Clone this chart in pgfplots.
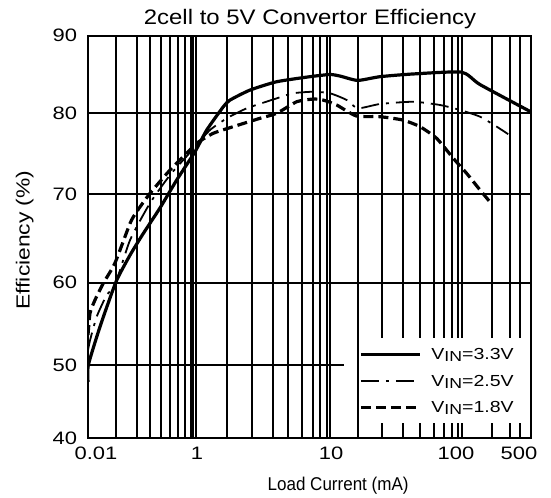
\documentclass[border=0pt]{standalone}
\usepackage{fontspec}
\setmainfont{Liberation Sans}
\newfontfamily\widefont{Liberation Sans}[FakeStretch=1.22]
\usepackage{graphicx}
\usepackage{pgfplots}
\pgfplotsset{compat=1.18}

% positions (bp from left spine) of the printed grid lines, per decade, for mantissa 1..10
\def\XA{{0,8.43,13.36,16.86,19.57,21.79,23.66,25.29,26.72,28}}
\def\XB{{28,48.7,62,72.7,82,90.3,97,102.5,105.3,108}}
\def\XC{{108,138.7,163.7,185.3,200.3,214,224.7,232,238.7,242}}
\def\XD{{242,269.7,293.7,314.7,332,346,356,363.7,370.3,373.7}}
\def\XE{{373.7,404.3,422,432,442.7,450,456,461,465,469}}
% positions (bp from bottom spine) of the printed lines 40,50,...,90
\def\YV{{0,73.3,155.6,244,325,402.6}}

\newcommand\tofixed[1]{%
  \pgfkeys{/pgf/fpu=true}\pgfmathparse{#1}\pgfmathfloattofixed{\pgfmathresult}%
  \let\fixin\pgfmathresult\pgfkeys{/pgf/fpu=false}}

\newcommand\xtrafo[1]{%
  \begingroup
  \tofixed{#1}%
  \pgfmathparse{log10(\fixin)+0.0005}\let\lx\pgfmathresult
  \pgfmathtruncatemacro\dd{floor(\lx)}%
  \pgfmathtruncatemacro\nd{-1*(\dd)}%
  \pgfmathparse{\fixin*(10^(\nd))}\let\mm\pgfmathresult
  \pgfmathtruncatemacro\kk{max(1,min(9,floor(\mm)))}%
  \pgfmathtruncatemacro\ka{\kk-1}%
  \ifcase\numexpr\dd+2\relax\let\Arr\XA\or\let\Arr\XB\or\let\Arr\XC\or\let\Arr\XD\or\let\Arr\XE\else\let\Arr\XE\fi
  \pgfmathparse{\Arr[\ka]+(\mm-\kk)*(\Arr[\kk]-\Arr[\ka])}%
  \xdef\trafores{\pgfmathresult}%
  \endgroup
  \let\pgfmathresult\trafores}

\newcommand\ytrafo[1]{%
  \begingroup
  \tofixed{#1}%
  \pgfmathparse{(\fixin-40)/10}\let\yT\pgfmathresult
  \pgfmathtruncatemacro\kk{max(0,min(4,floor(\yT)))}%
  \pgfmathtruncatemacro\kp{\kk+1}%
  \pgfmathparse{\YV[\kk]+(\yT-\kk)*(\YV[\kp]-\YV[\kk])}%
  \xdef\trafores{\pgfmathresult}%
  \endgroup
  \let\pgfmathresult\trafores}

\newcommand\vin[1]{\makebox[92bp][l]{V\raisebox{-2bp}{\fontsize{14.5bp}{14.5bp}\selectfont IN}=#1V}}

\begin{document}
\begin{tikzpicture}
\path[use as bounding box] (0,0) rectangle (551bp,-498bp);
\begin{axis}[
  scale only axis, width=442.7bp, height=402.6bp,
  anchor=south west, at={(88bp,-438.3bp)},
  x coord trafo/.code={\xtrafo{#1}},
  y coord trafo/.code={\ytrafo{#1}},
  xmin=0.01, xmax=500, ymin=40, ymax=90,
  enlargelimits=false,
  axis line style={line width=2bp},
  major tick length=0pt,
  xtick={0.01,1,10,100,500},
  xticklabels={\makebox[0pt]{\hspace*{16bp}0.01},\makebox[0pt]{\hspace*{2bp}1},\makebox[0pt]{\hspace*{2bp}10},\makebox[0pt]{100\hspace*{11.4bp}},\makebox[0pt]{500\hspace*{23.4bp}}},
  ytick={40,50,60,70,80,90},
  yticklabels={40,50,60,70,80,90},
  extra x ticks={0.1,0.2,0.3,0.4,0.5,0.6,0.7,0.8,0.9,1,2,3,4,5,6,7,8,9,10,20,30,40,50,60,70,80,90,100,200,300,400},
  extra x tick labels={},
  extra x tick style={grid=major},
  extra y ticks={60,70,80},
  extra y tick labels={},
  extra y tick style={grid=major},
  major grid style={black, line width=2bp},
  ticklabel style={font=\widefont\fontsize{18bp}{18bp}\selectfont, inner sep=0pt},
  xticklabel style={anchor=north, yshift=-8.4bp},
  yticklabel style={anchor=east, xshift=-10.7bp},
  every axis title shift=0pt,
  title={\scalebox{1.14}[1]{2cell to 5V Convertor Efficiency}},
  title style={at={(0.5015,1.0266)}, anchor=base, inner sep=0pt, font=\fontsize{21bp}{21bp}\selectfont},
  xlabel={\scalebox{0.92}[1]{Load Current (mA)}},
  xlabel style={at={(0.565,-0.1284)}, anchor=base, inner sep=0pt, font=\fontsize{18.5bp}{18.5bp}\selectfont},
  ylabel={\scalebox{1.2}[1]{Efficiency (\%)}},
  ylabel style={at={(-0.132,0.4925)}, anchor=base, inner sep=0pt, font=\fontsize{19bp}{19bp}\selectfont},
  legend style={at={(0.6122,0.2491)}, anchor=north west, fill=white, draw=none,
    inner xsep=0pt, inner ysep=8.5bp, row sep=11.5bp,
    font=\widefont\fontsize{16bp}{16bp}\selectfont,
    nodes={inner sep=0pt, text height=13bp, text depth=2bp},
    cells={anchor=base west}},
  legend image code/.code={\draw[#1] (0bp,5.5bp) -- (59bp,5.5bp); \path (69bp,5.5bp);},
]
% partial 50 % line
\addplot[forget plot, black, line width=2bp] coordinates {(0.01,50) (15,50)};

% VIN = 3.3 V
\addplot[black, line width=3.2bp, line join=round, smooth, tension=0.35] coordinates {
(0.01,47.7) (0.0104,50.0) (0.0272,54.65) (0.1,60.1) (0.168,63.13) (0.247,65.51)
(0.393,68.45) (0.581,71.77) (0.963,75.26) (1.35,77.94) (1.89,80.85) (2.13,81.7)
(2.93,82.99) (4.23,84.07) (6.75,84.72) (10,85.0) (13.6,84.8) (20,84.24)
(29.3,84.72) (46.1,85.07) (100,85.3) (160,83.7) (500,80.2)};
\addlegendentry{\vin{3.3}}

% VIN = 2.5 V
\addplot[black, line width=1.8bp, smooth, tension=0.35, dash pattern=on 18bp off 7bp on 3bp off 7bp] coordinates {
(0.01,51.8) (0.0124,53.0) (0.0205,55.87) (0.0468,58.5) (0.092,59.72) (0.168,64.83)
(0.3,69.0) (0.5,72.38) (0.731,74.7) (1.02,76.1) (1.456,77.94) (2,79.38)
(2.8,80.64) (4.23,81.93) (5.34,82.58) (7.04,82.78) (10,82.58) (16,81.72)
(20,80.64) (29.3,81.2) (46.1,81.49) (66,81.07) (95,80.43) (160,79.58)
(225,78.35) (290,77.42)};
\addlegendentry{\vin{2.5}}

% VIN = 1.8 V
\addplot[black, line width=3.2bp, smooth, tension=0.35, dash pattern=on 10bp off 5bp] coordinates {
(0.01,53.65) (0.0124,56.3) (0.0183,57.9) (0.0355,59.93) (0.092,62.23) (0.168,66.72)
(0.2,68.04) (0.3,70.12) (0.5,73.0) (0.731,75.06) (1.02,76.3) (1.56,77.53)
(2.26,78.35) (3.38,79.38) (4.23,80.0) (5.61,81.49) (7.08,81.84) (8.49,81.7)
(12.4,81.07) (19.5,79.67) (29.3,79.58) (40,79.17) (50,78.35) (62.7,76.9)
(82.4,74.44) (116,72.59) (160,70.53) (198,68.9)};
\addlegendentry{\vin{1.8}}
\end{axis}
\end{tikzpicture}
\end{document}
